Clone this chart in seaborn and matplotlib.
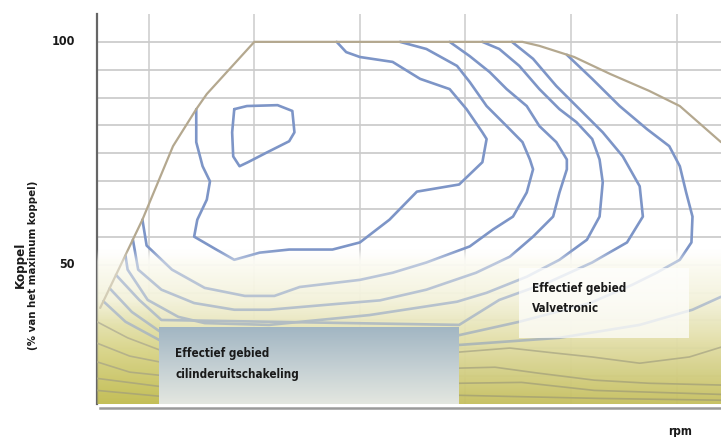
import numpy as np
import seaborn as sns
import matplotlib.pyplot as plt
from matplotlib import font_manager as fm
from matplotlib.colors import LinearSegmentedColormap
from matplotlib.patches import Rectangle

# engine speed in 1000 rpm, torque in % of maximum torque
full_load_rpm = [0.54, 0.94, 1.23, 1.45, 1.55, 2.00, 4.54, 4.70, 5.03, 5.37, 5.74, 6.03, 6.42]
full_load_pct = [40.3, 60.1, 76.6, 84.9, 88.3, 100.0, 100.0, 99.1, 96.6, 92.8, 89.0, 85.6, 77.5]

# efficiency contours (blue)
c1_rpm = [1.81, 1.93, 2.22, 2.36, 2.38, 2.33, 2.12, 1.94, 1.86, 1.80, 1.79, 1.81]
c1_pct = [84.9, 85.6, 85.8, 84.5, 79.7, 77.7, 75.2, 73.0, 72.1, 74.3, 79.7, 84.9]
c2_rpm = [1.45, 1.45, 1.51, 1.58, 1.55, 1.46, 1.43, 1.64, 1.81, 2.05, 2.33, 2.74, 3.00,
          3.28, 3.54, 3.94, 4.16, 4.20, 4.16, 4.01, 3.85, 3.57, 3.31, 3.00, 2.87, 2.78]
c2_pct = [84.9, 77.5, 72.1, 68.7, 64.6, 60.1, 56.3, 53.4, 51.1, 52.7, 53.4, 53.4, 55.0,
          60.1, 66.4, 68.0, 73.0, 78.2, 79.7, 84.9, 89.4, 91.7, 95.5, 96.6, 97.7, 100.0]
c3_rpm = [3.38, 3.63, 3.92, 4.04, 4.20, 4.39, 4.54, 4.61, 4.64, 4.58, 4.45, 4.26, 4.04,
          3.63, 3.31, 3.00, 2.43, 2.19, 1.91, 1.53, 1.22, 0.98, 0.94]
c3_pct = [100.0, 98.4, 94.6, 91.0, 85.6, 81.1, 77.5, 73.6, 71.4, 66.2, 60.8, 57.9, 54.1,
          50.5, 48.2, 46.6, 45.0, 43.0, 43.0, 44.8, 48.9, 54.3, 60.1]
c4_rpm = [3.85, 4.04, 4.23, 4.39, 4.58, 4.70, 4.86, 4.96, 4.96, 4.89, 4.83, 4.64, 4.42,
          4.10, 3.63, 3.19, 2.78, 2.14, 1.81, 1.43, 1.12, 0.90, 0.85]
c4_pct = [100.0, 96.8, 93.2, 89.4, 85.6, 81.1, 77.5, 73.6, 71.4, 66.2, 60.8, 56.3, 51.8,
          48.2, 44.4, 42.0, 41.2, 39.9, 39.9, 41.4, 44.4, 48.9, 55.6]
c5_rpm = [4.16, 4.32, 4.51, 4.70, 4.89, 5.05, 5.20, 5.27, 5.30, 5.27, 5.15, 4.89, 4.58,
          4.20, 3.92, 3.09, 2.14, 1.53, 1.28, 0.99, 0.80, 0.78]
c5_pct = [100.0, 98.4, 94.6, 89.4, 84.9, 82.0, 78.2, 73.6, 68.5, 60.8, 55.6, 51.1, 47.3,
          43.7, 41.7, 38.7, 36.5, 36.9, 38.3, 42.1, 48.9, 52.0]
c6_rpm = [4.44, 4.64, 4.86, 5.08, 5.30, 5.49, 5.65, 5.68, 5.53, 5.20, 4.80, 4.32, 3.94,
          1.12, 0.91, 0.69]
c6_pct = [100.0, 96.2, 90.1, 84.9, 79.7, 74.3, 67.6, 60.8, 55.0, 50.5, 46.2, 42.1, 36.5,
          37.6, 42.1, 47.7]
c7_rpm = [4.96, 5.20, 5.46, 5.72, 5.93, 6.03, 6.09, 6.15, 6.14, 6.03, 5.81, 5.58, 5.18,
          4.51, 3.94, 1.10, 0.84, 0.63]
c7_pct = [97.1, 91.7, 85.6, 80.4, 76.6, 72.1, 66.2, 60.8, 55.0, 51.1, 48.2, 45.5, 41.4,
          37.2, 34.2, 35.1, 39.4, 44.7]
c8_rpm = [6.42, 6.15, 5.65, 4.89, 3.94, 1.10, 0.78, 0.57]
c8_pct = [42.8, 39.9, 36.5, 33.6, 32.0, 33.1, 37.2, 41.8]

# low-load contours (grey)
g1_rpm = [0.51, 0.80, 1.10, 3.94, 4.42, 4.84, 5.20, 5.65, 6.12, 6.42]
g1_pct = [37.2, 33.6, 30.9, 30.4, 31.3, 30.2, 29.3, 27.9, 29.3, 31.5]
g2_rpm = [0.51, 0.82, 1.10, 3.94, 4.28, 4.68, 5.22, 5.74, 6.42]
g2_pct = [32.4, 29.5, 28.2, 26.8, 27.0, 25.7, 24.1, 23.4, 23.0]
g3_rpm = [0.51, 0.82, 1.10, 3.94, 4.53, 5.22, 6.42]
g3_pct = [28.2, 25.9, 25.2, 23.4, 23.6, 21.8, 20.9]
g4_rpm = [0.51, 1.10, 3.94, 5.27, 6.42]
g4_pct = [24.5, 22.7, 20.7, 20.0, 19.6]
g5_rpm = [0.51, 1.10]
g5_pct = [21.8, 20.5]

# areas
cyl_area_rpm = [1.10, 3.94]
cyl_area_pct = [18.75, 36.0]
valve_area_rpm = [4.51, 6.12]
valve_area_pct = [33.6, 49.3]

x_ticks = [1, 2, 3, 4, 5, 6]
y_ticks = [18.75, 25.0, 31.25, 37.5, 43.75, 50.0, 56.25, 62.5, 68.75, 75.0, 81.25,
           87.5, 93.75, 100.0, 106.25]
y_tick_labels = ['', '', '', '', '', '50', '', '', '', '', '', '', '', '100', '']
grid_y = y_ticks[1:-1]

sns.set_style("white")
plt.rcParams['font.family'] = ['Liberation Sans', 'DejaVu Sans']

# look for a narrow bold face (the original uses a condensed font)
narrow = None
for f in fm.fontManager.ttflist:
    tag = (f.name + ' ' + f.fname).lower()
    w = f.weight if isinstance(f.weight, int) else fm.weight_dict.get(f.weight, 400)
    if ('narrow' in tag or 'condensed' in tag) and w >= 600 and 'italic' not in tag \
            and 'semicondensed' not in tag and 'extra' not in tag:
        if narrow is None or 'liberation' in tag:
            narrow = f.fname
if narrow:
    FP = dict(fontproperties=fm.FontProperties(fname=narrow))
    SCALE = 1.0
else:
    FP = dict(family='Liberation Sans', fontweight='bold')
    SCALE = 0.8


def label(x, y, s, size, **kw):
    props = dict(FP)
    if 'fontproperties' in props:
        props['fontproperties'] = props['fontproperties'].copy()
        props['fontproperties'].set_size(size * SCALE)
    else:
        props['fontsize'] = size * SCALE
    return kw.pop('target', ax).text(x, y, s, color='#1a1a1a', **props, **kw)


fig = plt.figure(figsize=(7.21, 4.37), dpi=100)
ax = fig.add_axes([97 / 721, 33 / 437, 624 / 721, 390 / 437])
XL = (0.51, 6.42)
YL = (18.75, 106.25)

BLUE = '#7d95c7'
TAN = '#b4a88f'
GREY = '#8f8d7c'


def gradient(extent, stops, alpha=1.0, z=0):
    cmap = LinearSegmentedColormap.from_list('g', stops)
    img = cmap(np.linspace(0, 1, 256))[:, None, :]
    img[..., 3] *= alpha
    ax.imshow(img, extent=extent, origin='lower', aspect='auto',
              interpolation='bilinear', zorder=z)


def trace(x, y, color, lw, z=3):
    sns.lineplot(x=x, y=y, sort=False, estimator=None, color=color,
                 linewidth=lw, zorder=z, ax=ax, legend=False,
                 solid_joinstyle='round', solid_capstyle='round')


# grid
for gy in grid_y:
    ax.axhline(gy, color='#cdcdcd', lw=1.3, zorder=1)
for gx in x_ticks:
    ax.axvline(gx, color='#cbcbcb', lw=1.1, zorder=1)

# olive shading of the low-load zone
low_stops = [(0.0, (0.776, 0.753, 0.376, 1)), (0.221, (0.835, 0.816, 0.533, 1)),
             (0.414, (0.890, 0.875, 0.667, 1)), (0.674, (0.955, 0.950, 0.860, 1)),
             (0.922, (0.990, 0.988, 0.960, 1)), (1.0, (1, 1, 1, 0))]
gradient((XL[0], XL[1], 18.75, 53.4), low_stops, alpha=0.92, z=2)
corner_stops = [(0.0, (0.765, 0.749, 0.306, 1)), (0.5, (0.835, 0.820, 0.470, 1)),
                (0.75, (0.878, 0.867, 0.612, 1)), (1.0, (0.93, 0.92, 0.75, 0))]
gradient((XL[0], 1.10, 18.75, 42.1), corner_stops, alpha=0.9, z=2)

# curves
trace(g1_rpm, g1_pct, GREY, 1.2)
trace(g2_rpm, g2_pct, GREY, 1.2)
trace(g3_rpm, g3_pct, GREY, 1.2)
trace(g4_rpm, g4_pct, GREY, 1.2)
trace(g5_rpm, g5_pct, GREY, 1.2)
for cx, cy in [(c1_rpm, c1_pct), (c2_rpm, c2_pct), (c3_rpm, c3_pct), (c4_rpm, c4_pct),
               (c5_rpm, c5_pct), (c6_rpm, c6_pct), (c7_rpm, c7_pct), (c8_rpm, c8_pct)]:
    trace(cx, cy, BLUE, 1.9)
trace(full_load_rpm, full_load_pct, TAN, 1.6, z=3.5)

# fade the lines inside the shaded zone
gradient((XL[0], XL[1], 18.75, 53.4), low_stops, alpha=0.5, z=4)

# cylinder deactivation area
cyl_stops = [(0.0, '#e4e7e0'), (0.45, '#c6d1d4'), (1.0, '#a2b6c3')]
gradient((cyl_area_rpm[0], cyl_area_rpm[1], cyl_area_pct[0], cyl_area_pct[1]),
         cyl_stops, z=5)
label(1.25, 30.0, 'Effectief gebied', 8.4, va='center', ha='left', zorder=6)
label(1.25, 25.3, 'cilinderuitschakeling', 8.4, va='center', ha='left', zorder=6)

# Valvetronic area
ax.add_patch(Rectangle((valve_area_rpm[0], valve_area_pct[0]),
                       valve_area_rpm[1] - valve_area_rpm[0],
                       valve_area_pct[1] - valve_area_pct[0],
                       facecolor='white', edgecolor='none', alpha=0.72, zorder=5))
label(4.63, 44.6, 'Effectief gebied', 8.4, va='center', ha='left', zorder=6)
label(4.63, 40.1, 'Valvetronic', 8.4, va='center', ha='left', zorder=6)

ax.set_xlim(*XL)
ax.set_ylim(*YL)
ax.set_xticks(x_ticks)
ax.set_xticklabels([])
ax.set_yticks(y_ticks)
ax.set_yticklabels([])
ax.tick_params(axis='y', length=10, width=1.5, color='#5a5a5a', direction='out')
ax.tick_params(axis='x', length=8, width=1.5, color='#5a5a5a', direction='out')
for yv, lab in zip(y_ticks, y_tick_labels):
    if lab:
        label(-22 / 624, yv, lab, 9, ha='right', va='center',
              transform=ax.get_yaxis_transform())
ax.set_xlabel('')
ax.set_ylabel('')

for side in ['top', 'right']:
    ax.spines[side].set_visible(False)
ax.spines['left'].set_color('#666666')
ax.spines['left'].set_linewidth(1.6)
ax.spines['bottom'].set_color('#9a9a9a')
ax.spines['bottom'].set_linewidth(1.8)
ax.spines['bottom'].set_position(('outward', 3))
ax.spines['bottom'].set_bounds(0.54, XL[1])

label(20 / 721, 172 / 437, 'Koppel', 9.5, rotation=90, ha='center', va='center', target=fig)
label(33 / 721, 172 / 437, '(% van het maximum koppel)', 8.2, rotation=90,
      ha='center', va='center', target=fig)
label(680 / 721, 6 / 437, 'rpm', 8.5, ha='center', va='center', target=fig)

fig.savefig('out.png', dpi=100, facecolor='white')
